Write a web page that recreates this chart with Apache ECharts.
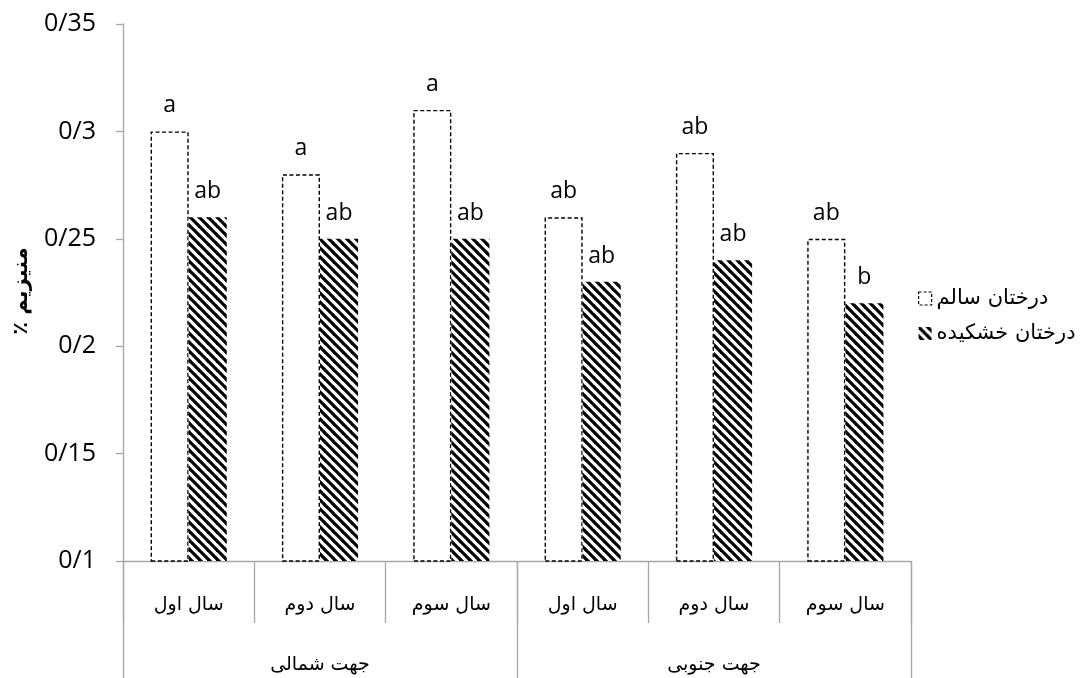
<!DOCTYPE html>
<html>
<head>
<meta charset="utf-8">
<script src="https://cdn.jsdelivr.net/npm/echarts@6/dist/echarts.min.js"></script>
<style>
html,body{margin:0;padding:0;background:#fff;}
#c{width:1091px;height:678px;}
</style>
</head>
<body>
<div id="c"></div>
<script>
var years = ['سال اول', 'سال دوم', 'سال سوم', 'سال اول', 'سال دوم', 'سال سوم'];
var directions = ['جهت شمالی', 'جهت جنوبی'];
var seriesNames = ['درختان سالم', 'درختان خشکیده'];
var healthy = [0.30, 0.28, 0.31, 0.26, 0.29, 0.25];
var dried = [0.26, 0.25, 0.25, 0.23, 0.24, 0.22];
var healthyLetters = ['a', 'a', 'a', 'ab', 'ab', 'ab'];
var driedLetters = ['ab', 'ab', 'ab', 'ab', 'ab', 'b'];
var yName = 'منیزیم ٪';

function makePattern() {
  var s = 9;
  var cv = document.createElement('canvas');
  cv.width = s; cv.height = s;
  var ctx = cv.getContext('2d');
  ctx.fillStyle = '#fff';
  ctx.fillRect(0, 0, s, s);
  ctx.strokeStyle = '#000';
  ctx.lineWidth = 3.2;
  for (var k = -1; k <= 1; k++) {
    ctx.beginPath();
    ctx.moveTo(-1, k * s - 1);
    ctx.lineTo(s + 1, s + k * s + 1);
    ctx.stroke();
  }
  return cv;
}

var chart = echarts.init(document.getElementById('c'));
var persianFont = 'DejaVu Sans';
var latinFont = 'Open Sans';
var hatch = makePattern();

chart.setOption({
  animation: false,
  backgroundColor: '#fff',
  grid: { left: 123, right: 180, top: 24, bottom: 117, containLabel: false },
  legend: {
    orient: 'vertical',
    left: 913,
    top: 283,
    icon: 'rect',
    itemWidth: 13,
    itemHeight: 13,
    itemGap: 14,
    textStyle: { fontFamily: persianFont, fontSize: 21, color: '#000' },
    data: [
      { name: seriesNames[0], itemStyle: { color: '#fff', borderColor: '#000', borderWidth: 1.2, borderType: [3, 2] } },
      { name: seriesNames[1] }
    ]
  },
  xAxis: [
    {
      type: 'category',
      data: years,
      position: 'bottom',
      axisLine: { show: true, lineStyle: { color: '#a6a6a6', width: 1.3 } },
      axisTick: { show: true, length: 62, lineStyle: { color: '#a6a6a6', width: 1.3 } },
      axisLabel: { margin: 35, fontFamily: persianFont, fontSize: 19, color: '#000' }
    },
    {
      type: 'category',
      data: directions,
      position: 'bottom',
      axisLine: { show: false },
      axisTick: { show: true, length: 118, lineStyle: { color: '#a6a6a6', width: 1.3 } },
      axisLabel: { margin: 95, fontFamily: persianFont, fontSize: 19, color: '#000' }
    }
  ],
  yAxis: {
    type: 'value',
    min: 0.1,
    max: 0.35,
    interval: 0.05,
    axisLine: { show: true, lineStyle: { color: '#a6a6a6', width: 1.3 } },
    axisTick: { show: true, length: 7, lineStyle: { color: '#a6a6a6', width: 1.3 } },
    splitLine: { show: false },
    axisLabel: {
      margin: 27,
      fontFamily: latinFont,
      fontSize: 25,
      color: '#000',
      formatter: function (v) { return String(Number(v.toFixed(2))).replace('.', '/'); }
    }
  },
  graphic: [
    {
      type: 'text',
      x: 22,
      y: 291,
      rotation: Math.PI / 2,
      style: {
        text: yName + '\u200F',
        fontFamily: persianFont,
        fontSize: 21,
        fontWeight: 'bold',
        fill: '#000',
        align: 'center',
        verticalAlign: 'middle'
      }
    }
  ],
  series: [
    {
      name: seriesNames[0],
      type: 'bar',
      xAxisIndex: 0,
      data: healthy,
      barGap: '0%',
      barCategoryGap: '42%',
      itemStyle: { color: '#fff', borderColor: '#000', borderWidth: 1.4, borderType: [4, 2.5] },
      label: {
        show: true, position: 'top', distance: 14,
        fontFamily: latinFont, fontSize: 23, color: '#000',
        formatter: function (p) { return healthyLetters[p.dataIndex]; }
      }
    },
    {
      name: seriesNames[1],
      type: 'bar',
      xAxisIndex: 0,
      data: dried,
      barGap: '0%',
      barCategoryGap: '42%',
      itemStyle: { color: { image: hatch, repeat: 'repeat' }, borderWidth: 0 },
      label: {
        show: true, position: 'top', distance: 14,
        fontFamily: latinFont, fontSize: 23, color: '#000',
        formatter: function (p) { return driedLetters[p.dataIndex]; }
      }
    }
  ]
});
</script>
</body>
</html>
